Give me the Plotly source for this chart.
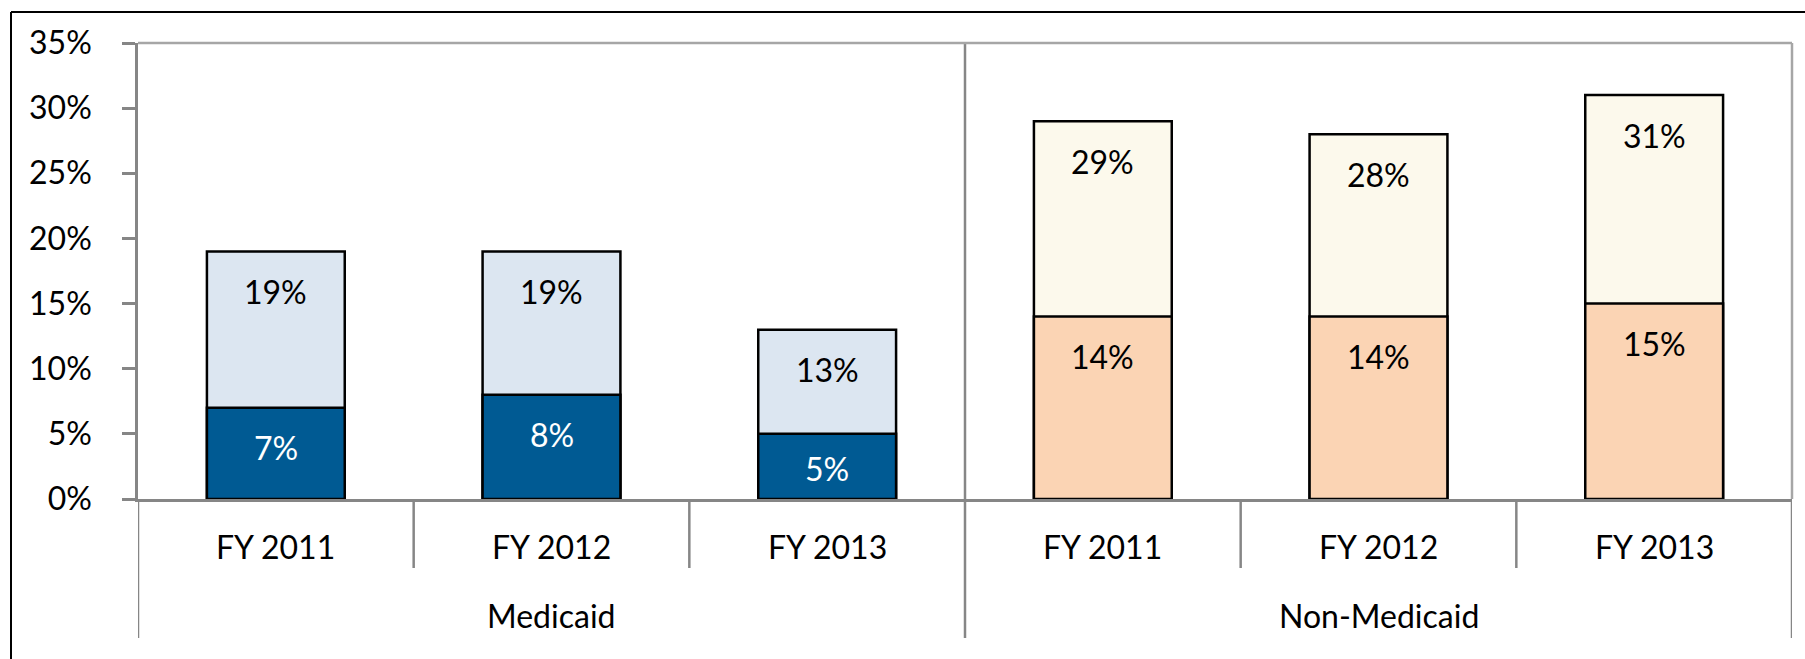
import plotly.graph_objects as go

# Share of cases by program and fiscal year
groups = ["Medicaid", "Medicaid", "Medicaid", "Non-Medicaid", "Non-Medicaid", "Non-Medicaid"]
years = ["FY 2011", "FY 2012", "FY 2013", "FY 2011", "FY 2012", "FY 2013"]
total_pct = [19, 19, 13, 29, 28, 31]      # full bar height
subset_pct = [7, 8, 5, 14, 14, 15]        # overlaid lower segment

light_colors = ["#DCE6F1"] * 3 + ["#FCF9EC"] * 3
dark_colors = ["#005A93"] * 3 + ["#FBD4B4"] * 3
subset_text_colors = ["#FFFFFF"] * 3 + ["#000000"] * 3

FONT = "Lato, Carlito, Calibri, sans-serif"
FS = 32
AXIS_GREY = "#868686"
BORDER_GREY = "#A6A6A6"

W, H = 1805, 659
M_L, M_R, M_T, M_B = 138, 13, 43, 160
PLOT_H = H - M_T - M_B
Y_MAX = 35
PX_PER_UNIT = PLOT_H / Y_MAX

xs = list(range(len(years)))

fig = go.Figure()
fig.add_trace(go.Bar(
    x=xs, y=total_pct, width=0.5,
    marker=dict(color=light_colors, line=dict(color="#000000", width=2.5)),
    hoverinfo="skip", showlegend=False,
))
fig.add_trace(go.Bar(
    x=xs, y=subset_pct, width=0.5,
    marker=dict(color=dark_colors, line=dict(color="#000000", width=2.5)),
    hoverinfo="skip", showlegend=False,
))


def label_shift(v):
    # labels sit near the top of each bar, kept inside short bars
    return -min(40, v * PX_PER_UNIT / 2 + 2)


annotations = []
for i in xs:
    annotations.append(dict(
        x=i, y=total_pct[i], xref="x", yref="y", text=f"{total_pct[i]}%",
        showarrow=False, yanchor="middle", yshift=label_shift(total_pct[i]),
        font=dict(family=FONT, size=FS, color="#000000"),
    ))
    annotations.append(dict(
        x=i, y=subset_pct[i], xref="x", yref="y", text=f"{subset_pct[i]}%",
        showarrow=False, yanchor="middle", yshift=label_shift(subset_pct[i]),
        font=dict(family=FONT, size=FS, color=subset_text_colors[i]),
    ))
    # inner category labels
    annotations.append(dict(
        x=i, y=0, xref="x", yref="paper", text=years[i],
        showarrow=False, yanchor="middle", yshift=-47,
        font=dict(family=FONT, size=FS, color="#000000"),
    ))

# outer group labels, centred on their categories
group_names = []
for g in groups:
    if g not in group_names:
        group_names.append(g)
for g in group_names:
    idx = [i for i, gg in enumerate(groups) if gg == g]
    annotations.append(dict(
        x=sum(idx) / len(idx), y=0, xref="x", yref="paper", text=g,
        showarrow=False, yanchor="middle", yshift=-116,
        font=dict(family=FONT, size=FS, color="#000000"),
    ))

inner_bottom = -69 / PLOT_H
outer_bottom = -139 / PLOT_H

shapes = []
# dividers between years inside a group
for i in range(len(years) - 1):
    if groups[i] == groups[i + 1]:
        shapes.append(dict(type="line", xref="x", yref="paper",
                           x0=i + 0.5, x1=i + 0.5, y0=0, y1=inner_bottom,
                           line=dict(color=AXIS_GREY, width=2.5)))
    else:
        shapes.append(dict(type="line", xref="x", yref="paper",
                           x0=i + 0.5, x1=i + 0.5, y0=1, y1=outer_bottom,
                           line=dict(color=AXIS_GREY, width=2.5)))
# outer edges of the category axis
for xe in (-0.5, len(years) - 0.5):
    shapes.append(dict(type="line", xref="x", yref="paper",
                       x0=xe, x1=xe, y0=0, y1=outer_bottom,
                       line=dict(color=AXIS_GREY, width=2.5)))
# plot-area border, top and right
shapes.append(dict(type="line", xref="paper", yref="paper", x0=0, x1=1, y0=1, y1=1,
                   line=dict(color=BORDER_GREY, width=2.5)))
shapes.append(dict(type="line", xref="paper", yref="paper", x0=1, x1=1, y0=0, y1=1,
                   line=dict(color=BORDER_GREY, width=2.5)))
# chart frame (left and top edges)
pw = W - M_L - M_R
fx = (11 - M_L) / pw
fy = 1 + (M_T - 12) / PLOT_H
shapes.append(dict(type="line", xref="paper", yref="paper", x0=fx, x1=fx, y0=fy, y1=-M_B / PLOT_H - 0.05,
                   line=dict(color="#000000", width=2)))
shapes.append(dict(type="line", xref="paper", yref="paper", x0=fx, x1=1 + M_R / pw + 0.05, y0=fy, y1=fy,
                   line=dict(color="#000000", width=2)))

fig.update_layout(
    width=W, height=H,
    margin=dict(l=M_L, r=M_R, t=M_T, b=M_B, pad=0),
    barmode="overlay",
    paper_bgcolor="#FFFFFF", plot_bgcolor="#FFFFFF",
    font=dict(family=FONT, size=FS, color="#000000"),
    annotations=annotations, shapes=shapes,
    xaxis=dict(range=[-0.5, len(years) - 0.5], showticklabels=False, showgrid=False,
               zeroline=False, showline=True, linecolor=AXIS_GREY, linewidth=2.5,
               ticks="", fixedrange=True),
    yaxis=dict(range=[0, Y_MAX], dtick=5, ticksuffix="%", showgrid=False, zeroline=False,
               showline=True, linecolor=AXIS_GREY, linewidth=2.5,
               ticks="outside", ticklen=13, tickwidth=2.5, tickcolor=AXIS_GREY,
               ticklabelstandoff=24, tickfont=dict(family=FONT, size=FS, color="#000000"),
               fixedrange=True),
)

fig.write_html("out.html")
